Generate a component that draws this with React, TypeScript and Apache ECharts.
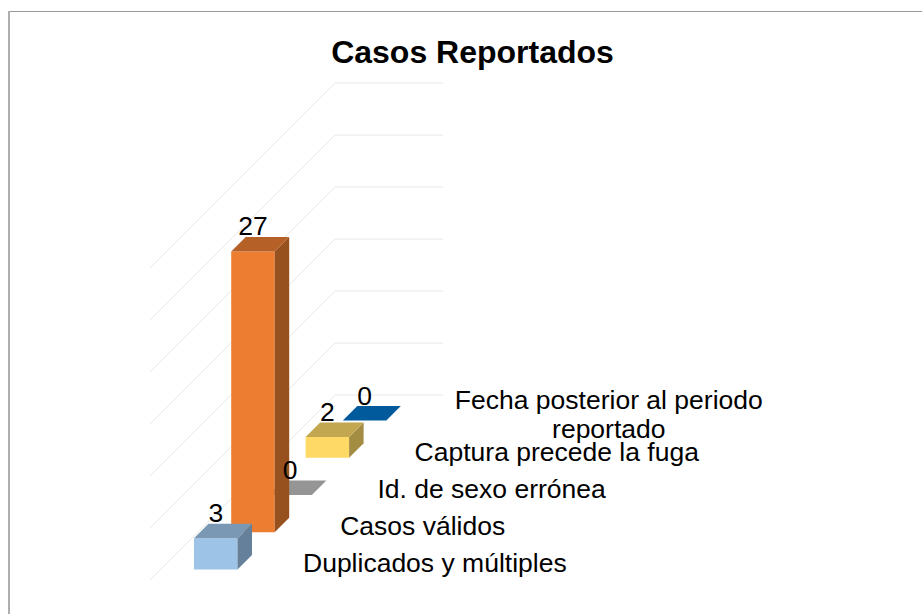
import React, { useEffect, useRef } from "react";
import * as echarts from "echarts";

const categories = [
  "Duplicados y múltiples",
  "Casos válidos",
  "Id. de sexo errónea",
  "Captura precede la fuga",
  "Fecha posterior al periodo\nreportado",
];
const values = [3, 27, 0, 2, 0];
const frontColors = ["#9DC3E6", "#ED7D31", "#A5A5A5", "#FFD966", "#0070C0"];
const topColors = ["#7A98B4", "#B56026", "#959595", "#C2A650", "#005A9C"];
const sideColors = ["#64809B", "#97511F", "#7A7A7A", "#A38D43", "#004A80"];
const gridTicks = [0, 5, 10, 15, 20, 25, 30];

// 3D projection constants (pixels)
const WALL_DEPTH = 185;
const FLOOR_WIDTH = 108;
const BAR_WIDTH = 43.5;
const BAR_DEPTH = 14.5;
const BAR_DX = 25.4;
const BAR_DY = 10.5;
const STEP = 37.25;
const LABEL_FONT = 26.5;

function renderGrid(params: any, api: any) {
  const cs = params.coordSys;
  const v = api.value(0);
  const y = api.coord([0, v])[1];
  const x0 = cs.x;
  const style = { stroke: "#E8E8E8", lineWidth: 1, fill: "none" };
  return {
    type: "polyline",
    silent: true,
    shape: {
      points: [
        [x0, y],
        [x0 + WALL_DEPTH, y - WALL_DEPTH],
        [x0 + WALL_DEPTH + FLOOR_WIDTH, y - WALL_DEPTH],
      ],
    },
    style,
  };
}

function renderBar(params: any, api: any) {
  const i = api.value(0);
  const v = api.value(1);
  const base = api.coord([i, 0]);
  const top = api.coord([i, v]);
  const lift = i * STEP + BAR_DY;
  const x = base[0] + BAR_DX;
  const yb = base[1] - lift;
  const yt = top[1] - lift;
  const w = BAR_WIDTH;
  const d = BAR_DEPTH;
  const children: any[] = [];
  if (v > 0) {
    children.push({
      type: "polygon",
      shape: { points: [[x, yb], [x + w, yb], [x + w, yt], [x, yt]] },
      style: { fill: frontColors[i] },
    });
    children.push({
      type: "polygon",
      shape: { points: [[x + w, yb], [x + w + d, yb - d], [x + w + d, yt - d], [x + w, yt]] },
      style: { fill: sideColors[i] },
    });
  }
  children.push({
    type: "polygon",
    shape: { points: [[x, yt], [x + w, yt], [x + w + d, yt - d], [x + d, yt - d]] },
    style: { fill: topColors[i] },
  });
  children.push({
    type: "text",
    z2: 100,
    style: {
      text: String(v),
      x: x + w / 2,
      y: yt - d - 10.5,
      align: "center",
      verticalAlign: "middle",
      fontFamily: "Liberation Sans",
      fontSize: LABEL_FONT,
      fill: "#000",
    },
  });
  const name = categories[i];
  const wrapped = name.indexOf("\n") >= 0;
  children.push({
    type: "text",
    z2: 100,
    style: {
      text: name,
      x: x + 109 + (wrapped ? 157 : 0),
      y: base[1] - 17 - i * 37 - (wrapped ? 1 : 0),
      align: wrapped ? "center" : "left",
      verticalAlign: "middle",
      fontFamily: "Liberation Sans",
      fontSize: LABEL_FONT,
      lineHeight: 29,
      fill: "#000",
    },
  });
  return { type: "group", children };
}

export default function App() {
  const ref = useRef<HTMLDivElement>(null);
  useEffect(() => {
    const chart = echarts.init(ref.current!, undefined, { renderer: "svg" });
    chart.setOption({
      animation: false,
      backgroundColor: "#fff",
      title: {
        text: "Casos Reportados",
        left: 467.5,
        top: 31,
        textAlign: "center",
        textStyle: { fontFamily: "Liberation Sans", fontSize: 32, fontWeight: "bold", color: "#000" },
      },
      grid: { left: 150, width: 186, top: 268, height: 312 },
      xAxis: { type: "category", data: categories, show: false },
      yAxis: { type: "value", min: 0, max: 30, interval: 5, show: false },
      graphic: [
        { type: "line", shape: { x1: 9, y1: 11.5, x2: 922, y2: 11.5 }, style: { stroke: "#999", lineWidth: 1 } },
        { type: "line", shape: { x1: 9, y1: 11, x2: 9, y2: 614 }, style: { stroke: "#AEAEAE", lineWidth: 2 } },
      ],
      series: [
        {
          type: "custom",
          coordinateSystem: "cartesian2d",
          renderItem: renderGrid,
          encode: { y: 0 },
          data: gridTicks.map((t) => [t]),
          silent: true,
          z: 1,
          clip: false,
        },
        {
          type: "custom",
          coordinateSystem: "cartesian2d",
          renderItem: renderBar,
          encode: { x: 0, y: 1 },
          // drawn back to front so that nearer bars overlap farther ones
          data: values.map((v, i) => [i, v]).reverse(),
          silent: true,
          z: 2,
          clip: false,
        },
      ],
    });
    return () => chart.dispose();
  }, []);
  return <div ref={ref} style={{ position: "absolute", left: 0, top: 0, width: 922, height: 614 }} />;
}
